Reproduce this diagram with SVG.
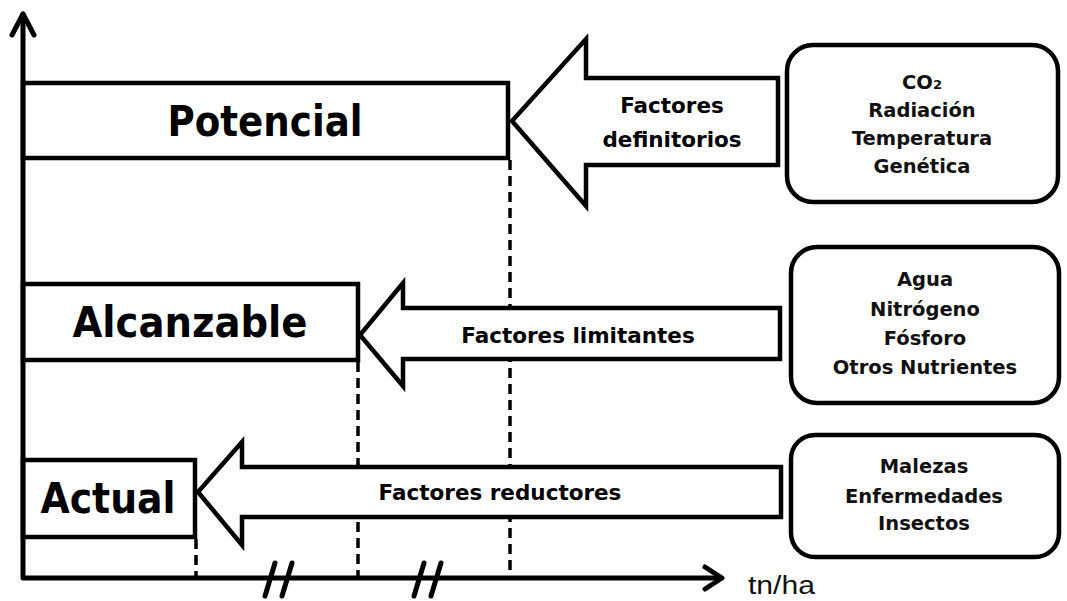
<svg xmlns="http://www.w3.org/2000/svg" width="1067" height="601" viewBox="0 0 1067 601">
<style>
.ax{fill:none;stroke:#000;stroke-width:5;stroke-linecap:round;stroke-linejoin:round}
.bar{fill:#fff;stroke:#000;stroke-width:4.5}
.arr{fill:#fff;stroke:#000;stroke-width:4.5;stroke-linejoin:miter}
.box{fill:#fff;stroke:#000;stroke-width:4.5}
.dash{fill:none;stroke:#000;stroke-width:3.5;stroke-dasharray:10 6}
.big{font-family:"DejaVu Sans",sans-serif;font-weight:bold;font-size:42px;text-anchor:middle;fill:#000}
.lab{font-family:"DejaVu Sans",sans-serif;font-weight:bold;font-size:21.5px;text-anchor:middle;fill:#000}
.lst{font-family:"DejaVu Sans",sans-serif;font-weight:bold;font-size:19.5px;text-anchor:middle;fill:#111}
.unit{font-family:"Liberation Sans",sans-serif;font-size:25px;fill:#111}
</style>
<g id="guides">
<line class="dash" x1="510" y1="160" x2="510" y2="576"/>
<line class="dash" x1="358" y1="362" x2="358" y2="576"/>
<line class="dash" x1="196" y1="539" x2="196" y2="576"/>
</g>
<g id="bar-potencial">
<rect class="bar" x="23" y="83" width="485" height="75"/>
<text class="big" x="265" y="136" textLength="195" lengthAdjust="spacingAndGlyphs">Potencial</text>
</g>
<g id="bar-alcanzable">
<rect class="bar" x="23" y="284" width="335" height="76"/>
<text class="big" x="190" y="337" textLength="235" lengthAdjust="spacingAndGlyphs">Alcanzable</text>
</g>
<g id="bar-actual">
<rect class="bar" x="23" y="460" width="172" height="77"/>
<text class="big" x="108" y="513" textLength="135" lengthAdjust="spacingAndGlyphs">Actual</text>
</g>
<g id="connectors">
<polygon class="arr" points="778,78 586,78 586,39 512,121 586,206 586,165 778,165"/>
<polygon class="arr" points="780,308 403,308 403,283 360,335 403,386 403,359 780,359"/>
<polygon class="arr" points="781,467 242,467 242,442 198,492 242,545 242,517 781,517"/>
</g>
<g id="label-definitorios">
<text class="lab" x="672" y="113">Factores</text>
<text class="lab" x="672" y="147">definitorios</text>
</g>
<g id="label-limitantes">
<text class="lab" x="578" y="343">Factores limitantes</text>
</g>
<g id="label-reductores">
<text class="lab" x="500" y="500">Factores reductores</text>
</g>
<g id="box-definitorios">
<rect class="box" x="787" y="45" width="271" height="157" rx="26"/>
<text class="lst" x="922" y="89">CO<tspan font-size="13px">2</tspan></text>
<text class="lst" x="922" y="117">Radiación</text>
<text class="lst" x="922" y="145">Temperatura</text>
<text class="lst" x="922" y="173">Genética</text>
</g>
<g id="box-limitantes">
<rect class="box" x="791" y="247" width="268" height="156" rx="26"/>
<text class="lst" x="925" y="286">Agua</text>
<text class="lst" x="925" y="316">Nitrógeno</text>
<text class="lst" x="925" y="345">Fósforo</text>
<text class="lst" x="925" y="374">Otros Nutrientes</text>
</g>
<g id="box-reductores">
<rect class="box" x="791" y="435" width="268" height="122" rx="24"/>
<text class="lst" x="924" y="473">Malezas</text>
<text class="lst" x="924" y="503">Enfermedades</text>
<text class="lst" x="924" y="530">Insectos</text>
</g>
<g id="axes">
<polyline class="ax" points="23,14 23,578 720,578"/>
<polyline class="ax" points="12,35 23,14 34,35"/>
<polyline class="ax" points="705,567 722,578 705,589"/>
<line class="ax" x1="275" y1="563" x2="265" y2="596" stroke-width="4"/>
<line class="ax" x1="292" y1="563" x2="282" y2="596" stroke-width="4"/>
<line class="ax" x1="424" y1="563" x2="414" y2="596" stroke-width="4"/>
<line class="ax" x1="441" y1="563" x2="431" y2="596" stroke-width="4"/>
<text class="unit" x="748" y="594" textLength="67" lengthAdjust="spacingAndGlyphs">tn/ha</text>
</g>
</svg>
